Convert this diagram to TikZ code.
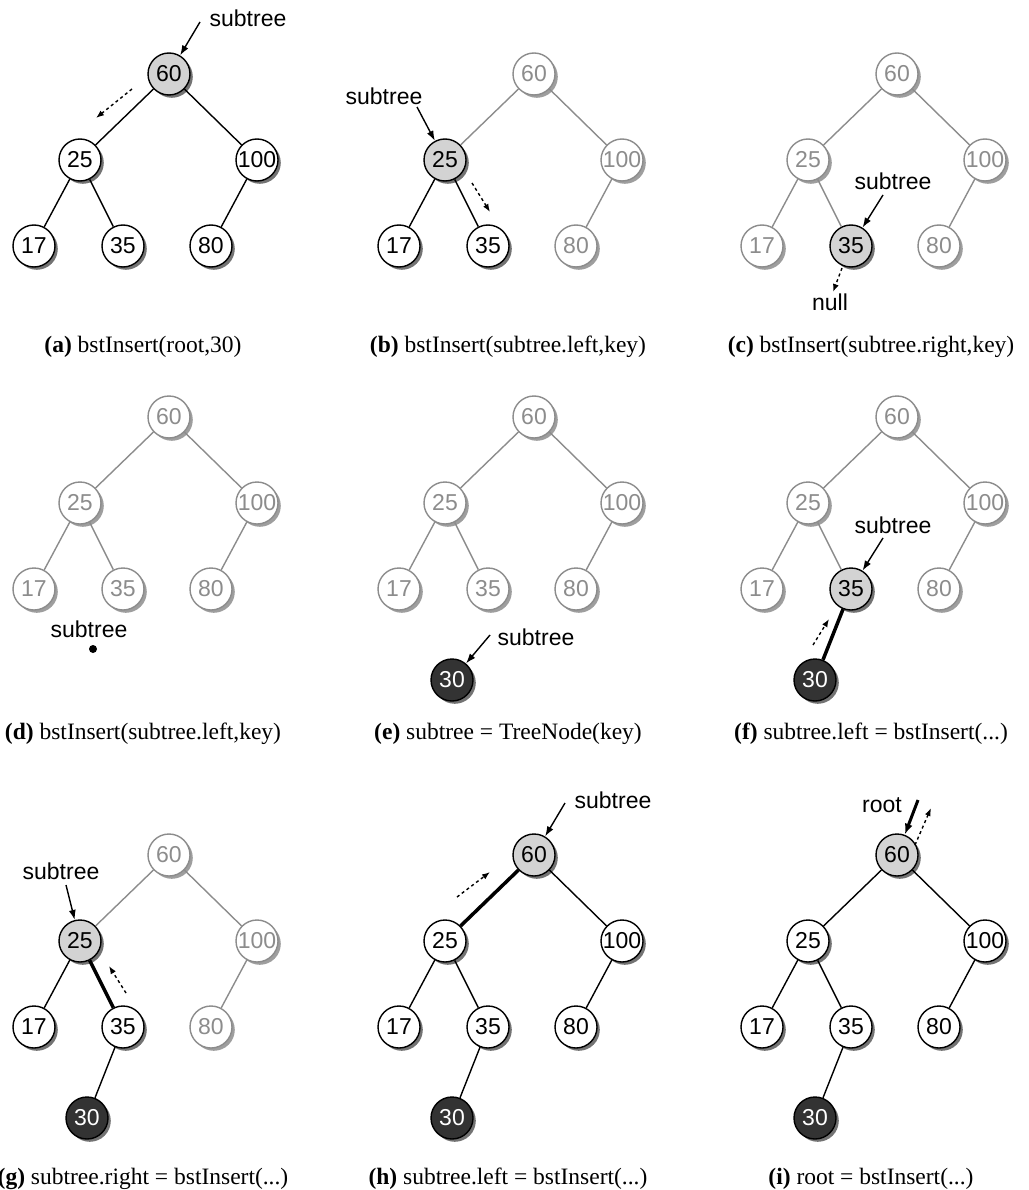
\documentclass[tikz,border=0pt]{standalone}
\usepackage{fontspec}
\setmainfont{Liberation Serif}
\newfontfamily\arialf{Liberation Sans}
\usetikzlibrary{shadows,arrows.meta}
\newcommand\kk[1]{\makebox[0pt]{#1}}
\definecolor{fadec}{RGB}{140,140,140}
\definecolor{hlc}{RGB}{211,211,211}
\definecolor{dkc}{RGB}{51,51,51}
\tikzset{
 nbase/.style={circle, minimum size=42pt, inner sep=0pt, line width=1.4pt, font=\arialf\fontsize{23}{23}\selectfont},
 shad/.style={general shadow={fill=#1, shadow xshift=2.8pt, shadow yshift=-2.8pt}},
 nw/.style={nbase, draw=black, fill=white, text=black, shad=black!55},
 nf/.style={nbase, draw=fadec, fill=white, text=fadec, shad=black!38},
 nh/.style={nbase, draw=black, fill=hlc, text=black, shad=black!55},
 nd/.style={nbase, draw=black, fill=dkc, text=white, shad=black!55},
 ed/.style={line width=1.4pt, draw=black},
 ef/.style={line width=1.4pt, draw=fadec},
 et/.style={line width=3.5pt, draw=black},
 s60/.style=nw, s25/.style=nw, s100/.style=nw, s17/.style=nw, s35/.style=nw, s80/.style=nw,
 e25/.style=ed, e100/.style=ed, e17/.style=ed, e35/.style=ed, e80/.style=ed, e30/.style=ed,
 lab/.style={font=\arialf\fontsize{23}{23}\selectfont, inner sep=0pt, anchor=base},
 capt/.style={font=\fontsize{23.5}{28}\selectfont, inner sep=0pt},
 arr/.style={line width=1.4pt, -{Latex[length=10pt,width=7pt]}},
 arrt/.style={line width=3pt, -{Latex[length=11pt,width=8pt]}},
 darr/.style={line width=1.4pt, dash pattern=on 3pt off 3pt, -{Latex[length=8pt,width=6pt]}},
}
\newcommand\bsttree{%
  \node[s60] (n60) at (169,74) {\kk{60}};
  \node[s25] (n25) at (80,160) {\kk{25}};
  \node[s100] (n100) at (257,160) {\kk{100}};
  \node[s17] (n17) at (34,246) {\kk{17}};
  \node[s35] (n35) at (123,246) {\kk{35}};
  \node[s80] (n80) at (211,246) {\kk{80}};
  \draw[e25] (n60) -- (n25);
  \draw[e100] (n60) -- (n100);
  \draw[e17] (n25) -- (n17);
  \draw[e35] (n25) -- (n35);
  \draw[e80] (n100) -- (n80);
}
\begin{document}
\begin{tikzpicture}[x=1pt,y=-1pt]
\useasboundingbox (0,0) rectangle (1028,1190);
% (a)
\begin{scope}[name prefix=a-, s60/.style=nh]
 \bsttree
 \node[lab] (lab) at (248,27) {subtree};
 \coordinate (p) at (200,22);
 \draw[arr] (p) -- (n60);
 \coordinate (q1) at (132,89); \coordinate (q2) at (96,118);
 \draw[darr] (q1) -- (q2);
 \node[capt] (cp) at (143,347) {\textbf{(a)} bstInsert(root,30)};
\end{scope}
% (b)
\begin{scope}[shift={(365,0)}, name prefix=b-, s60/.style=nf, s100/.style=nf, s80/.style=nf, s25/.style=nh, e25/.style=ef, e100/.style=ef, e80/.style=ef]
 \bsttree
 \node[lab] (lab) at (19,105) {subtree};
 \coordinate (p) at (52,107);
 \draw[arr] (p) -- (n25);
 \coordinate (q1) at (107,183); \coordinate (q2) at (125,212);
 \draw[darr] (q1) -- (q2);
 \node[capt] (cp) at (143,347) {\textbf{(b)} bstInsert(subtree.left,key)};
\end{scope}
% (c)
\begin{scope}[shift={(728,0)}, name prefix=c-, s60/.style=nf, s25/.style=nf, s100/.style=nf, s17/.style=nf, s80/.style=nf, s35/.style=nh, e25/.style=ef, e100/.style=ef, e17/.style=ef, e35/.style=ef, e80/.style=ef]
 \bsttree
 \node[lab] (lab) at (165,190) {subtree};
 \coordinate (p) at (155,195);
 \draw[arr] (p) -- (n35);
 \node[lab] (nul) at (102,310) {null};
 \coordinate (q1) at (114,268); \coordinate (q2) at (105,292);
 \draw[darr] (q1) -- (q2);
 \node[capt] (cp) at (143,347) {\textbf{(c)} bstInsert(subtree.right,key)};
\end{scope}
% (d)
\begin{scope}[shift={(0,343)}, name prefix=d-, s60/.style=nf, s25/.style=nf, s100/.style=nf, s17/.style=nf, s35/.style=nf, s80/.style=nf, e25/.style=ef, e100/.style=ef, e17/.style=ef, e35/.style=ef, e80/.style=ef]
 \bsttree
 \node[lab] (lab) at (89,294) {subtree};
 \fill (93,306) circle (4);
 \node[capt] (cp) at (143,391) {\textbf{(d)} bstInsert(subtree.left,key)};
\end{scope}
% (e)
\begin{scope}[shift={(365,343)}, name prefix=e-, s60/.style=nf, s25/.style=nf, s100/.style=nf, s17/.style=nf, s35/.style=nf, s80/.style=nf, e25/.style=ef, e100/.style=ef, e17/.style=ef, e35/.style=ef, e80/.style=ef]
 \bsttree
 \node[nd] (n30) at (87,337) {\kk{30}};
 \node[lab] (lab) at (171,302) {subtree};
 \coordinate (p) at (125,292);
 \draw[arr] (p) -- (n30);
 \node[capt] (cp) at (143,391) {\textbf{(e)} subtree = TreeNode(key)};
\end{scope}
% (f)
\begin{scope}[shift={(728,343)}, name prefix=f-, s60/.style=nf, s25/.style=nf, s100/.style=nf, s17/.style=nf, s80/.style=nf, s35/.style=nh, e25/.style=ef, e100/.style=ef, e17/.style=ef, e35/.style=ef, e80/.style=ef, e30/.style=et]
 \bsttree
 \node[nd] (n30) at (87,337) {\kk{30}};
 \draw[e30] (n35) -- (n30);
 \node[lab] (lab) at (165,190) {subtree};
 \coordinate (p) at (155,195);
 \draw[arr] (p) -- (n35);
 \coordinate (q1) at (85,302); \coordinate (q2) at (101,276);
 \draw[darr] (q1) -- (q2);
 \node[capt] (cp) at (143,391) {\textbf{(f)} subtree.left = bstInsert(...)};
\end{scope}
% (g)
\begin{scope}[shift={(0,781)}, name prefix=g-, s60/.style=nf, s100/.style=nf, s80/.style=nf, s25/.style=nh, e25/.style=ef, e100/.style=ef, e80/.style=ef, e35/.style=et]
 \bsttree
 \node[nd] (n30) at (87,337) {\kk{30}};
 \draw[e30] (n35) -- (n30);
 \node[lab] (lab) at (61,98) {subtree};
 \coordinate (p) at (66,104);
 \draw[arr] (p) -- (n25);
 \coordinate (q1) at (126,212); \coordinate (q2) at (109,185);
 \draw[darr] (q1) -- (q2);
 \node[capt] (cp) at (143,398) {\textbf{(g)} subtree.right = bstInsert(...)};
\end{scope}
% (h)
\begin{scope}[shift={(365,781)}, name prefix=h-, s60/.style=nh, e25/.style=et]
 \bsttree
 \node[nd] (n30) at (87,337) {\kk{30}};
 \draw[e30] (n35) -- (n30);
 \node[lab] (lab) at (248,27) {subtree};
 \coordinate (p) at (200,22);
 \draw[arr] (p) -- (n60);
 \coordinate (q1) at (92,116); \coordinate (q2) at (125,91);
 \draw[darr] (q1) -- (q2);
 \node[capt] (cp) at (143,398) {\textbf{(h)} subtree.left = bstInsert(...)};
\end{scope}
% (i)
\begin{scope}[shift={(728,781)}, name prefix=i-, s60/.style=nh]
 \bsttree
 \node[nd] (n30) at (87,337) {\kk{30}};
 \draw[e30] (n35) -- (n30);
 \node[lab] (lab) at (154,31) {root};
 \coordinate (p) at (190,19);
 \draw[arrt] (p) -- (n60);
 \coordinate (q1) at (187,64); \coordinate (q2) at (203,27);
 \draw[darr] (q1) -- (q2);
 \node[capt] (cp) at (143,398) {\textbf{(i)} root = bstInsert(...)};
\end{scope}
\end{tikzpicture}
\end{document}
